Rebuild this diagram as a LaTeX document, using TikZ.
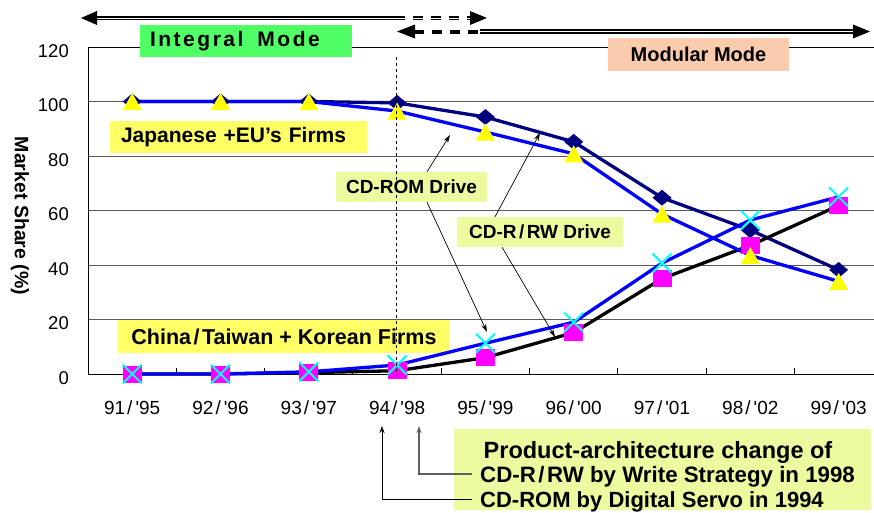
\documentclass[tikz,border=0pt]{standalone}
\usepackage{fontspec}
\setmainfont{Liberation Sans}[Ligatures=TeXOff]
\newfontfamily\spacedfont{Liberation Sans}[LetterSpace=12,Ligatures=TeXOff]
\usetikzlibrary{arrows.meta,plotmarks}

\definecolor{navyline}{RGB}{0,0,128}
\definecolor{blueline}{RGB}{0,0,255}
\definecolor{markyellow}{RGB}{255,255,0}
\definecolor{markmagenta}{RGB}{255,0,255}
\definecolor{markcyan}{RGB}{0,255,255}
\definecolor{tagyellow}{RGB}{255,255,102}
\definecolor{taglime}{RGB}{238,250,160}
\definecolor{taggreen}{RGB}{80,255,102}
\definecolor{tagpeach}{RGB}{251,203,173}
\definecolor{gridgray}{RGB}{90,90,90}
\definecolor{leadgray}{RGB}{95,95,95}

% data markers
\pgfdeclareplotmark{dmd}{%
  \pgfpathmoveto{\pgfpoint{-9.5pt}{0pt}}\pgfpathlineto{\pgfpoint{0pt}{8pt}}%
  \pgfpathlineto{\pgfpoint{9.5pt}{0pt}}\pgfpathlineto{\pgfpoint{0pt}{-8pt}}%
  \pgfpathclose\pgfusepathqfill}
\pgfdeclareplotmark{tri}{%
  \pgfpathmoveto{\pgfpoint{-9.5pt}{-8.5pt}}\pgfpathlineto{\pgfpoint{9.5pt}{-8.5pt}}%
  \pgfpathlineto{\pgfpoint{0pt}{8.5pt}}\pgfpathclose\pgfusepathqfill}
\pgfdeclareplotmark{sqr}{%
  \pgfpathrectangle{\pgfpoint{-9.5pt}{-8.5pt}}{\pgfpoint{19pt}{17pt}}\pgfusepathqfill}
\pgfdeclareplotmark{crs}{%
  \pgfsetlinewidth{2pt}%
  \pgfpathmoveto{\pgfpoint{-9.5pt}{-9.5pt}}\pgfpathlineto{\pgfpoint{9.5pt}{9.5pt}}%
  \pgfpathmoveto{\pgfpoint{-9.5pt}{9.5pt}}\pgfpathlineto{\pgfpoint{9.5pt}{-9.5pt}}%
  \pgfusepathqstroke}

\newcommand\slashsep{\kern2.5pt/\kern2.5pt}

\begin{document}
\begin{tikzpicture}[x=1pt, y=-1pt,
  tag/.style={inner sep=0pt, text=black},
  ylab/.style={anchor=east, inner sep=0pt, font=\fontsize{18.5}{20}\selectfont},
  xlab/.style={inner sep=0pt, font=\fontsize{19}{21}\selectfont},
  modeline/.style={double=white, double distance=0.8pt, line width=2pt},
  pointer/.style={line width=0.7pt, -{Stealth[length=8pt,width=5pt]}},
  series/.style={line width=3.3pt, line join=round},
  notefont/.style={font=\fontsize{22}{24}\selectfont\bfseries}]
\useasboundingbox (0,0) rectangle (874,512);

% ---- grid and axes
\foreach \v in {20,40,60,80,100}
  \draw[gridgray, line width=1pt] (88,{374-2.725*\v}) -- (874,{374-2.725*\v});
\draw[black, line width=1pt] (88,47) -- (874,47);
\draw[black, line width=1pt] (88,47) -- (88,374) -- (874,374);
\foreach \i in {1,...,9}
  \draw[black, line width=1pt] ({88+88.3*\i},374) -- ++(0,-6);

\foreach \v in {0,20,...,120}
  \node[ylab] (ylab\v) at (69,{378-2.725*\v}) {\v};
\foreach \a/\b [count=\i from 0] in {91/95,92/96,93/97,94/98,95/99,96/00,97/01,98/02,99/03}
  \node[xlab] (xl\i) at ({132.2+88.3*\i},408) {\a\kern2pt/\kern3pt'\b};

\node[rotate=-90, inner sep=0pt, font=\fontsize{19.5}{21}\selectfont\bfseries] (ytitle) at (20,216) {Market Share (\%)};

% ---- labels sitting under the data
\node[tag, fill=tagyellow, inner xsep=11pt, text width=235pt, align=left, minimum height=32pt,
      font=\fontsize{21}{23}\selectfont\bfseries] (jpn) at (238.5,137) {Japanese +EU’s Firms};
\node[tag, fill=tagyellow, minimum width=332pt, minimum height=33pt,
      font=\fontsize{21.5}{23}\selectfont\bfseries] (chn) at (284,336.5) {China\slashsep Taiwan + Korean Firms};
\node[tag, fill=taglime, minimum width=151pt, minimum height=30pt,
      font=\fontsize{19}{21}\selectfont\bfseries] (romtag) at (411.5,187) {CD-ROM Drive};
\node[tag, fill=taglime, minimum width=166pt, minimum height=30pt,
      font=\fontsize{19}{21}\selectfont\bfseries] (rwtag) at (540,232) {CD-R\slashsep RW Drive};

% ---- data series
\begin{scope}[shift={(132.2pt,-374pt)}, x=88.3pt, y=2.725pt]
  \draw[series, navyline] plot coordinates {(0,100) (1,100) (2,100) (3,99.5) (4,94.3) (5,85.2) (6,64.7) (7,52.8) (8,38.2)};
  \draw[series, black] plot coordinates {(0,0) (1,0) (2,0.5) (3,1.2) (4,6) (5,15.2) (6,35) (7,47.2) (8,61.8)};
  \draw[series, blueline] plot coordinates {(0,100) (1,100) (2,100) (3,96.5) (4,88.8) (5,80.8) (6,58.7) (7,43.5) (8,34)};
  \draw[series, blueline] plot coordinates {(0,0) (1,0) (2,0.8) (3,3.3) (4,11.3) (5,19) (6,40.7) (7,56.5) (8,65)};
  \draw[only marks, mark=dmd, color=navyline] plot coordinates {(0,100) (1,100) (2,100) (3,99.5) (4,94.3) (5,85.2) (6,64.7) (7,52.8) (8,38.2)};
  \draw[only marks, mark=sqr, color=markmagenta] plot coordinates {(0,0) (1,0) (2,0.5) (3,1.2) (4,6) (5,15.2) (6,35) (7,47.2) (8,61.8)};
  \draw[only marks, mark=tri, color=markyellow] plot coordinates {(0,100) (1,100) (2,100) (3,96.5) (4,88.8) (5,80.8) (6,58.7) (7,43.5) (8,34)};
  \draw[only marks, mark=crs, color=markcyan] plot coordinates {(0,0) (1,0) (2,0.8) (3,3.3) (4,11.3) (5,19) (6,40.7) (7,56.5) (8,65)};
\end{scope}

% ---- 1994 boundary
\draw[black, line width=0.8pt, dash pattern=on 3pt off 3pt] (396.7,57) -- (396.7,374);

% ---- mode arrows
\node[tag, fill=taggreen, inner xsep=10pt, text width=192pt, align=left, minimum height=32pt,
      font=\spacedfont\fontsize{21}{23}\selectfont\bfseries] (integral) at (246,41) {Integral\hspace{7pt} Mode};
\node[tag, fill=tagpeach, minimum width=181pt, minimum height=33pt,
      font=\fontsize{20}{22}\selectfont\bfseries] (modular) at (698.5,54.5) {Modular Mode};

\coordinate (intL) at (81,18);
\coordinate (intS) at (395,18);
\coordinate (intE) at (470,18);
\coordinate (intR) at (487,18);
\draw[modeline] ([xshift=15pt]intL) -- (intS);
\draw[modeline, dash pattern=on 10pt off 8pt] (intS) -- (intE);
\fill (intL) -- ++(16,-7) -- ++(0,14) -- cycle;
\fill (intR) -- ++(-17,-7) -- ++(0,14) -- cycle;

\coordinate (modL) at (397,31.5);
\coordinate (modD) at (523,31.5);
\coordinate (modR) at (870,31.5);
\draw[line width=4pt, dash pattern=on 10pt off 8pt] ([xshift=17pt]modL) -- (modD);
\draw[modeline] (480,31.5) -- ([xshift=-17pt]modR);
\fill (modL) -- ++(18,-7) -- ++(0,14) -- cycle;
\fill (modR) -- ++(-17,-7) -- ++(0,14) -- cycle;

% ---- pointers from the drive labels
\coordinate (romtipA) at (450,135);
\coordinate (romtipB) at (487,332);
\coordinate (rwtipA) at (540,133);
\coordinate (rwtipB) at (555,337);
\draw[pointer] ([xshift=15.5pt]romtag.north) -- (romtipA);
\draw[pointer] ([xshift=15.5pt]romtag.south) -- (romtipB);
\draw[pointer] ([xshift=-45pt]rwtag.north) -- (rwtipA);
\draw[pointer] ([xshift=-38pt]rwtag.south) -- (rwtipB);

% ---- architecture-change note
\node[tag, fill=taglime, minimum width=417pt, minimum height=81pt, anchor=north west] (note) at (454,429) {};
\node[inner sep=0pt, anchor=base, font=\fontsize{23.5}{25}\selectfont\bfseries] (nhead) at (658,458) {Product-architecture change of};
\node[inner xsep=8pt, inner ysep=0pt, text height=16pt, text depth=0pt, anchor=base west,
      font=\fontsize{22.3}{24}\selectfont\bfseries] (lrw) at (472,482) {CD-R\slashsep RW by Write Strategy in 1998};
\node[notefont, inner xsep=8pt, inner ysep=0pt, text height=16pt, text depth=0pt, anchor=base west] (lrom) at (472,507) {CD-ROM by Digital Servo in 1994};

\coordinate (tip98) at (419,426);
\coordinate (tip94) at (382,426);
\draw[leadgray, line width=1.3pt, -{Stealth[length=7pt,width=5pt]}] (lrw.west) -| (tip98);
\draw[black, line width=0.9pt, -{Stealth[length=7pt,width=5pt]}] (lrom.west) -| (tip94);
\end{tikzpicture}
\end{document}
